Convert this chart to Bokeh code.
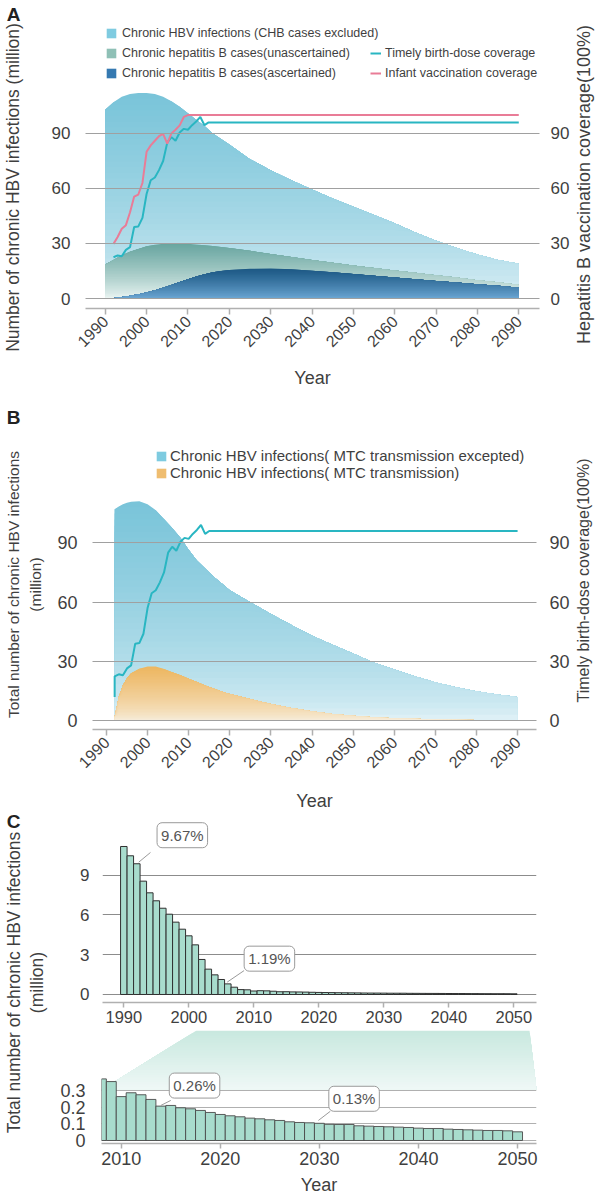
import math
import numpy as np
from bokeh.plotting import figure
from bokeh.models import Range1d, LinearAxis, FixedTicker, Legend, LegendItem, Label
from bokeh.layouts import column, row
from bokeh.embed import file_html
from bokeh.resources import INLINE
from bokeh.core.properties import value

FONT = "Liberation Sans"
TXT = "#3f3f3f"
GRID = "#a0a0a0"
AXIS = "#b0b0b0"

# ======================= DATA =======================
# Panel A
a_years = [1990, 1992, 1994, 1996, 1998, 2000, 2002, 2004, 2006, 2008, 2010, 2012, 2014, 2016, 2018,
           2020, 2025, 2030, 2035, 2040, 2045, 2050, 2055, 2060, 2065, 2070, 2075, 2080, 2085, 2090]
a_hbv = [103, 107, 110, 111.5, 112, 112, 111.5, 110, 107.5, 104.5, 101, 97.5, 94, 90, 87,
         84, 76, 70, 64.5, 59.5, 54.5, 50, 45.5, 41, 36, 31.5, 27.5, 24, 21, 19]
a_unasc = [18.5, 21, 23.5, 25.5, 27, 28.5, 29.3, 29.8, 30, 30, 29.8, 29.4, 29, 28.6, 28.1,
           27.6, 26, 24.3, 22.6, 21, 19.5, 18, 16.6, 15.3, 14, 12.7, 11.4, 10, 8.8, 7.5]
a_asc = [0, 0.3, 0.8, 1.5, 2.3, 3.3, 4.5, 5.8, 7.3, 9, 10.5, 12, 13.2, 14.3, 15,
         15.5, 16.2, 16.4, 16, 15.2, 14.3, 13.3, 12.4, 11.5, 10.5, 9.6, 8.7, 7.8, 6.9, 6]
timely_years = list(range(1992, 2016)) + [2090]
timely = [22.5, 23.5, 23, 26.5, 28, 39, 39.3, 44, 57, 64.5, 66, 70, 75, 85, 88, 86,
          90.5, 92.5, 92, 94.5, 96.5, 99, 94.5, 96, 96]
infant_years = list(range(1992, 2011)) + [2090]
infant = [29.8, 33.5, 38, 40, 47, 55.6, 56.7, 63, 80, 83.5, 86, 88.5, 89.8, 84.4, 90,
          92, 94.4, 99, 100, 100]
a_xticks = list(range(1990, 2091, 10))
a_yticks = [0, 30, 60, 90]

# Panel B
b_years = [1992, 1993, 1994, 1995, 1996, 1998, 2000, 2002, 2004, 2006, 2008, 2010, 2012, 2014, 2016,
           2018, 2020, 2025, 2030, 2035, 2040, 2045, 2050, 2055, 2060, 2065, 2070, 2075, 2080, 2085, 2090]
b_hbv = [107, 108.4, 109.5, 110.3, 110.8, 111, 109.5, 106.5, 102, 97.5, 92.5, 86.5, 81, 77, 73,
         69.5, 66, 60, 54, 48.5, 43, 38.5, 34, 29.5, 26, 22.5, 19.5, 17, 15, 13.3, 12]
b_mtc = [2, 12, 18, 21.5, 24, 26.3, 27.5, 27.4, 26.2, 24.6, 23, 21.3, 19.6, 17.9, 16.3,
         14.8, 13.5, 11, 8.5, 6.5, 4.8, 3.5, 2.5, 1.8, 1.3, 1.0, 0.7, 0.5, 0.35, 0.25, 0.2]
b_timely_years = [1992] + timely_years
b_timely = [12] + timely

# Panel C
c_years = list(range(1990, 2051))
c_vals = [11.15, 10.45, 9.85, 8.54, 7.66, 7.06, 6.5, 6.05, 5.45, 4.92, 4.42, 3.74, 2.64, 1.91,
          1.48, 1.13, 0.80, 0.55,
          0.369, 0.353,
          0.263, 0.286, 0.274, 0.246, 0.206, 0.21, 0.196, 0.190, 0.180, 0.168,
          0.156, 0.148, 0.142, 0.134, 0.130, 0.124, 0.120, 0.112, 0.108, 0.106,
          0.103, 0.097, 0.096, 0.096, 0.088, 0.086, 0.084, 0.082, 0.080, 0.078,
          0.074, 0.072, 0.072, 0.068, 0.066, 0.064, 0.062, 0.060, 0.060, 0.058,
          0.052]
zoom_start = 2008
c_zoom_years = [y for y in c_years if y >= zoom_start]
c_zoom_vals = [v for y, v in zip(c_years, c_vals) if y >= zoom_start]
c_top_xticks = list(range(1990, 2051, 10))
c_top_yticks = [0, 3, 6, 9]
c_bot_xticks = list(range(2010, 2051, 10))
c_bot_yticks = [0, 0.1, 0.2, 0.3]
# callouts: (year, text, leader start dx,dy, leader end dx,dy, box dx,dy)
callouts_top = [(1992, "9.67%", 0.3, 0.12, 2.1, 0.85, 7.0, 2.15),
                (2006, "1.19%", -0.1, 0.13, 2.5, 1.0, 6.4, 1.9)]
callouts_bot = [(2014, "0.26%", 0.0, 0.004, 1.0, 0.034, 3.4, 0.123),
                (2030, "0.13%", -0.1, 0.017, 1.1, 0.072, 3.5, 0.147)]

# ======================= HELPERS =======================
def hex_rgb(h):
    h = h.lstrip('#')
    return tuple(int(h[i:i + 2], 16) for i in (0, 2, 4))


def mix(c_bot, c_top, f):
    a, b = hex_rgb(c_bot), hex_rgb(c_top)
    return "#%02x%02x%02x" % tuple(int(round(a[i] + (b[i] - a[i]) * f)) for i in range(3))


def grad_area(p, x, y, c_top, c_bot, gamma=1.0, n=36):
    y = np.asarray(y, float)
    vmax = y.max()
    edges = np.linspace(vmax, 0, n + 1)
    for k in range(n):
        mid = 0.5 * (edges[k] + edges[k + 1])
        f = (mid / vmax) ** gamma
        p.varea(x=x, y1=np.zeros_like(y), y2=np.minimum(y, edges[k]),
                fill_color=mix(c_bot, c_top, f), fill_alpha=1.0)


def base_fig(w, h, xr, yr, mbl, mbr, mbt, mbb):
    p = figure(width=w, height=h, x_range=Range1d(*xr), y_range=Range1d(*yr), title=None,
               output_backend="svg", toolbar_location=None,
               min_border_left=mbl, min_border_right=mbr, min_border_top=mbt, min_border_bottom=mbb)
    p.frame_align = False
    p.outline_line_color = None
    p.xgrid.visible = False
    p.ygrid.grid_line_color = GRID
    p.ygrid.grid_line_width = 1
    return p


def style_y(ax, ticks, size, standoff):
    ax.ticker = FixedTicker(ticks=ticks)
    ax.axis_line_color = None
    ax.major_tick_line_color = None
    ax.minor_tick_line_color = None
    ax.major_label_text_font = FONT
    ax.major_label_text_font_size = size
    ax.major_label_text_color = TXT
    ax.major_label_standoff = standoff


def style_x(ax, ticks, size, standoff, label=None, lstand=5, orient=None, tick_out=6):
    ax.ticker = FixedTicker(ticks=ticks)
    ax.axis_line_color = AXIS
    ax.axis_line_width = 1.5
    ax.major_tick_line_color = AXIS
    ax.major_tick_line_width = 1.5
    ax.major_tick_out = tick_out
    ax.major_tick_in = 0
    ax.minor_tick_line_color = None
    ax.major_label_text_font = FONT
    ax.major_label_text_font_size = size
    ax.major_label_text_color = TXT
    ax.major_label_standoff = standoff
    if orient is not None:
        ax.major_label_orientation = orient
    if label:
        ax.axis_label = label
        ax.axis_label_text_font = FONT
        ax.axis_label_text_font_style = "normal"
        ax.axis_label_text_color = TXT
        ax.axis_label_text_font_size = "18px"
        ax.axis_label_standoff = lstand


leg_common = dict(glyph_width=12, glyph_height=12, label_height=12, padding=0, margin=0,
                  border_line_alpha=0, background_fill_alpha=0, label_text_font=FONT,
                  label_text_color=TXT)

# page geometry (px from top-left of page)
H_TOTAL = 1200
LEFT_W = 48
MID_W = 524
RIGHT_W = 26
MID_X0 = LEFT_W

# ======================= PANEL A =======================
A_H = 392
A_X = (1985.23, 2095.01)
A_Y = (-5.45, 162.5)
pA = base_fig(MID_W, A_H, A_X, A_Y, 85 - MID_X0, MID_X0 + MID_W - 545, 0, A_H - 308)
pA.extra_y_ranges = {"cov": Range1d(*A_Y)}
grad_area(pA, a_years, a_hbv, "#79c4d9", "#e8f5f9", gamma=0.55)
grad_area(pA, a_years, a_unasc, "#67a59f", "#eff7f5", gamma=0.8)
grad_area(pA, a_years, a_asc, "#1b5783", "#6fa9d6", gamma=0.8)
rT = pA.line(timely_years, timely, line_color="#29b6c2", line_width=2, y_range_name="cov")
rI = pA.line(infant_years, infant, line_color="#e97c97", line_width=2, y_range_name="cov")
pA.ygrid.ticker = FixedTicker(ticks=a_yticks)
pA.ygrid.level = "guide"
style_y(pA.yaxis[0], a_yticks, "17px", 9)
axR = LinearAxis(y_range_name="cov")
style_y(axR, a_yticks, "17px", 5)
pA.add_layout(axR, "right")
style_x(pA.xaxis[0], a_xticks, "16px", 4, "Year", lstand=13, orient=math.pi / 4)

x0a = [a_years[0], a_years[1]]
dA1 = pA.varea(x=x0a, y1=[0, 0], y2=[0, 0], fill_color="#7fcbe0")
dA2 = pA.varea(x=x0a, y1=[0, 0], y2=[0, 0], fill_color="#8fc0b6")
dA3 = pA.varea(x=x0a, y1=[0, 0], y2=[0, 0], fill_color="#3579b1")
legA1 = Legend(items=[LegendItem(label="Chronic HBV infections (CHB cases excluded)", renderers=[dA1]),
                      LegendItem(label="Chronic hepatitis B cases(unascertained)", renderers=[dA2]),
                      LegendItem(label="Chronic hepatitis B cases(ascertained)", renderers=[dA3])],
               location=(20, 228), spacing=6, label_standoff=5, label_text_font_size="12.5px",
               **leg_common)
legA2 = Legend(items=[LegendItem(label="Timely birth-dose coverage", renderers=[rT]),
                      LegendItem(label="Infant vaccination coverage", renderers=[rI])],
               location=(285, 228), spacing=6, label_standoff=4, label_text_font_size="12.5px",
               **leg_common)
legA2.glyph_width = 11
pA.add_layout(legA1)
pA.add_layout(legA2)

# ======================= PANEL B =======================
B_TOP = A_H
B_H = 422
B_X = (1986.61, 2094.60)
B_Y = (-4.40, 166.0)
pB = base_fig(MID_W, B_H, B_X, B_Y, 92 - MID_X0, MID_X0 + MID_W - 538, 0, B_TOP + B_H - 729)
pB.extra_y_ranges = {"cov": Range1d(*B_Y)}
grad_area(pB, b_years, b_hbv, "#79c4d9", "#e8f5f9", gamma=0.55)
grad_area(pB, b_years, b_mtc, "#edb660", "#f7efe0", gamma=0.7)
pB.line(b_timely_years, b_timely, line_color="#29b6c2", line_width=2, y_range_name="cov")
pB.ygrid.ticker = FixedTicker(ticks=a_yticks)
pB.ygrid.level = "guide"
style_y(pB.yaxis[0], a_yticks, "18px", 9)
axRB = LinearAxis(y_range_name="cov")
style_y(axRB, a_yticks, "18px", 7)
pB.add_layout(axRB, "right")
style_x(pB.xaxis[0], a_xticks, "16px", 4, "Year", lstand=15, orient=math.pi / 4)
x0b = [b_years[0], b_years[1]]
dB1 = pB.varea(x=x0b, y1=[0, 0], y2=[0, 0], fill_color="#7ecbe0")
dB2 = pB.varea(x=x0b, y1=[0, 0], y2=[0, 0], fill_color="#efbd70")
legB = Legend(items=[LegendItem(label="Chronic HBV infections( MTC transmission excepted)", renderers=[dB1]),
                     LegendItem(label="Chronic HBV infections( MTC transmission)", renderers=[dB2])],
              location=(63, 248), spacing=0, label_standoff=3, label_text_font_size="15px",
              **leg_common)
pB.add_layout(legB)

# ======================= PANEL C =======================
C_TOP = B_TOP + B_H
CT_H, CT_MBL, CT_MBR, CT_MBT, CT_MBB = 216, 54, 36, 2, 28
CB_H, CB_MBL, CB_MBR, CB_MBT, CB_MBB = 170, 53, 36, 0, 57
CT_X = (1986.72, 2053.49)
CT_Y = (-0.603, 13.41)
CB_X = (2008.01, 2051.91)
CB_Y = (-0.018, 0.659)

pCt = base_fig(MID_W, CT_H, CT_X, CT_Y, CT_MBL, CT_MBR, CT_MBT, CT_MBB)
pCt.ygrid.ticker = FixedTicker(ticks=c_top_yticks)
pCt.ygrid.grid_line_color = "#8c8c8c"
pCt.vbar(x=c_years, top=c_vals, bottom=0, width=1, fill_color="#a8dccd",
         line_color="#303030", line_width=1)
style_y(pCt.yaxis[0], c_top_yticks, "17px", 7)
style_x(pCt.xaxis[0], c_top_xticks, "16.5px", 3, tick_out=5)
for (yr, txt, sx0, sy0, sx1, sy1, bx, by) in callouts_top:
    v = c_vals[c_years.index(yr)]
    pCt.line([yr + sx0, yr + sx1], [v + sy0, v + sy1], line_color="#9a9a9a", line_width=1)
    pCt.add_layout(Label(x=yr + bx, y=v + by, text=txt, text_font=FONT, text_font_size="15px",
                         text_color="#555555", text_align="center", text_baseline="middle",
                         background_fill_color="white", border_line_color="#9a9a9a",
                         border_line_width=1, padding=4, border_radius=5))

pCb = base_fig(MID_W, CB_H, CB_X, CB_Y, CB_MBL, CB_MBR, CB_MBT, CB_MBB)
pCb.ygrid.ticker = FixedTicker(ticks=c_bot_yticks)
pCb.ygrid.grid_line_color = "#b0b0b0"

# connector: zoom window of the top panel projected down onto this panel
CT_LEFT = MID_X0 + CT_MBL
CT_RIGHT = MID_X0 + MID_W - CT_MBR
CT_BOTTOM = C_TOP + CT_H - CT_MBB
CB_LEFT = MID_X0 + CB_MBL
CB_RIGHT = MID_X0 + MID_W - CB_MBR
CB_TOP = C_TOP + CT_H + CB_MBT
CB_BOTTOM = C_TOP + CT_H + CB_H - CB_MBB
base_level = 0.3
z0, z1 = CB_X


def ct_px(x):
    return CT_LEFT + (x - CT_X[0]) / (CT_X[1] - CT_X[0]) * (CT_RIGHT - CT_LEFT)


def cb_data(px):
    return CB_X[0] + (px - CB_LEFT) / (CB_RIGHT - CB_LEFT) * (CB_X[1] - CB_X[0])


base_py = CB_TOP + (CB_Y[1] - base_level) / (CB_Y[1] - CB_Y[0]) * (CB_BOTTOM - CB_TOP)
frac = (CB_TOP - CT_BOTTOM) / (base_py - CT_BOTTOM)
xl_top = cb_data(ct_px(z0) + frac * (CB_LEFT - ct_px(z0)))
xr_top = cb_data(ct_px(z1) + frac * (CB_RIGHT - ct_px(z1)))
y_top = CB_Y[1]
y0 = base_level + 0.004
ngrad = 24
hs = np.linspace(y_top, y0, ngrad + 1)
for k in range(ngrad):
    hi = hs[k]
    t = (hi - y0) / (y_top - y0)
    xl_hi = z0 + (xl_top - z0) * t
    xr_hi = z1 + (xr_top - z1) * t
    mid = 0.5 * (hs[k] + hs[k + 1])
    f = (mid - y0) / (y_top - y0)
    pCb.harea(y=[y0, hi], x1=[z0, xl_hi], x2=[z1, xr_hi], fill_color=mix("#eff8f6", "#c8e8df", f))

pCb.vbar(x=c_zoom_years, top=c_zoom_vals, bottom=0, width=1, fill_color="#a8dccd",
         line_color="#4a4a4a", line_width=0.9)
style_y(pCb.yaxis[0], c_bot_yticks, "18px", 10)
style_x(pCb.xaxis[0], c_bot_xticks, "18px", 3, "Year", lstand=7, tick_out=5)
for (yr, txt, sx0, sy0, sx1, sy1, bx, by) in callouts_bot:
    v = c_vals[c_years.index(yr)]
    pCb.line([yr + sx0, yr + sx1], [v + sy0, v + sy1], line_color="#9a9a9a", line_width=1)
    pCb.add_layout(Label(x=yr + bx, y=v + by, text=txt, text_font=FONT, text_font_size="15px",
                         text_color="#555555", text_align="center", text_baseline="middle",
                         background_fill_color="white", border_line_color="#9a9a9a",
                         border_line_width=1, padding=4, border_radius=5))

# ======================= SIDE TEXT COLUMNS =======================
def side_fig(x0, w):
    p = figure(width=w, height=H_TOTAL, x_range=Range1d(x0, x0 + w), y_range=Range1d(0, H_TOTAL),
               title=None, output_backend="svg", toolbar_location=None,
               x_axis_type=None, y_axis_type=None, min_border=0)
    p.frame_align = False
    p.outline_line_color = None
    return p


def ptext(p, x, y, txt, size="18px", bold=False, angle=0.0, color=TXT):
    p.text(x=[x], y=[H_TOTAL - y], text=[txt], angle=angle, text_font=value(FONT),
           text_font_size=size, text_font_style="bold" if bold else "normal",
           text_color=color, text_align="center", text_baseline="middle")


pLeft = side_fig(0, LEFT_W)
ptext(pLeft, 13, 14, "A", "19px", True, color="#222222")
ptext(pLeft, 12, 187, "Number of chronic HBV infections (million)", size="17.5px", angle=math.pi / 2)
ptext(pLeft, 13, 417, "B", "19px", True, color="#222222")
ptext(pLeft, 13, 584, "Total number of chronic HBV infections", size="15.5px", angle=math.pi / 2)
ptext(pLeft, 35, 584, "(million)", size="15.5px", angle=math.pi / 2)
ptext(pLeft, 13, 821, "C", "19px", True, color="#222222")
ptext(pLeft, 13, 982, "Total number of chronic HBV infections", size="17.5px", angle=math.pi / 2)
ptext(pLeft, 36, 982, "(million)", size="17.5px", angle=math.pi / 2)

pRight = side_fig(MID_X0 + MID_W, RIGHT_W)
ptext(pRight, 583, 184, "Hepatitis B vaccination coverage(100%)", angle=math.pi / 2)
ptext(pRight, 583, 580, "Timely birth-dose coverage(100%)", size="16px", angle=math.pi / 2)

layout = row(pLeft, column(pA, pB, pCt, pCb), pRight)
open("out.html", "w").write(file_html(layout, INLINE))
